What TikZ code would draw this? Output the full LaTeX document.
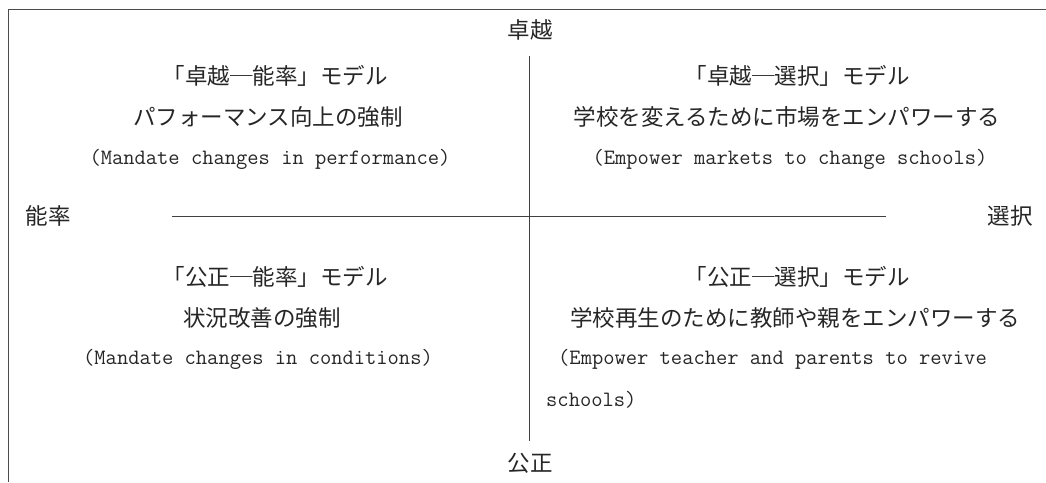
\documentclass[tikz,border=0pt]{standalone}
\usepackage{fontspec}
\newfontfamily\jpfont{Noto Sans CJK JP}
\tikzset{
  jp/.style={inner sep=0pt, font=\jpfont\fontsize{22.5}{24}\selectfont, text=black!85},
  en/.style={inner sep=0pt, font=\ttfamily\fontsize{21.9}{24}\selectfont, text=black!85},
  axisline/.style={draw=black!75, line width=0.9pt},
  frameline/.style={draw=black!70, line width=0.8pt}
}
\begin{document}
\begin{tikzpicture}[x=1pt,y=-1pt]
\useasboundingbox (0,0) rectangle (1046,482);
% frame (top and left edges)
\draw[frameline] (1046,9) -- (8,9) -- (8,482);
% axis labels
\node[jp] (top) at (530,30) {卓越};
\node[jp] (bottom) at (530,463) {公正};
\node[jp] (left) at (48,216) {能率};
\node[jp] (right) at (1010,216) {選択};
% axes
\coordinate (axL) at (172,216);
\coordinate (axR) at (886,216);
\coordinate (axT) at (529,56);
\coordinate (axB) at (529,441);
\draw[axisline] (axL) -- (axR);
\draw[axisline] (axT) -- (axB);
% top-left
\node[jp] (tl1) at (275,76) {「卓越─能率」モデル};
\node[jp] (tl2) at (268,117) {パフォーマンス向上の強制};
\node[en] (tl3) at (270,159) {(Mandate changes in performance)};
% top-right
\node[jp] (tr1) at (797,76) {「卓越─選択」モデル};
\node[jp] (tr2) at (787,117) {学校を変えるために市場をエンパワーする};
\node[en] (tr3) at (790,159) {(Empower markets to change schools)};
% bottom-left
\node[jp] (bl1) at (275,277) {「公正─能率」モデル};
\node[jp] (bl2) at (262,318) {状況改善の強制};
\node[en] (bl3) at (258,359) {(Mandate changes in conditions)};
% bottom-right
\node[jp] (br1) at (797,277) {「公正─選択」モデル};
\node[jp] (br2) at (795,318) {学校再生のために教師や親をエンパワーする};
\node[en, anchor=west] (br3) at (558,359) {(Empower teacher and parents to revive};
\node[en, anchor=west] (br4) at (546,400) {schools)};
\end{tikzpicture}
\end{document}
